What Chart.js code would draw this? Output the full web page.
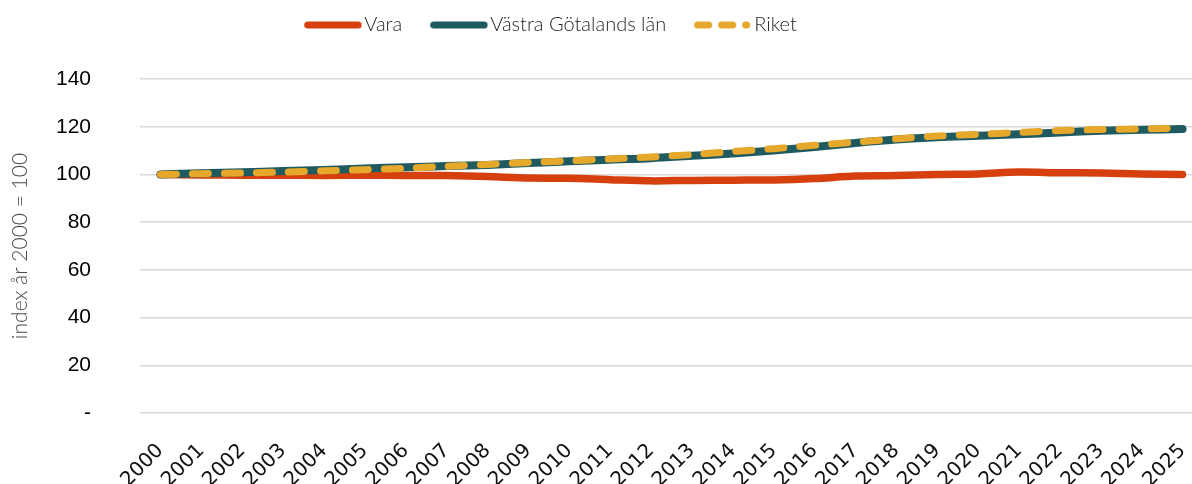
<!DOCTYPE html>
<html lang="sv">
<head>
<meta charset="utf-8">
<script src="https://cdn.jsdelivr.net/npm/chart.js@4/dist/chart.umd.min.js"></script>
<style>
  html, body { margin: 0; padding: 0; background: #fff; overflow: hidden; }
  #wrap { width: 1203px; height: 484px; }
</style>
</head>
<body>
<div id="wrap"><canvas id="indexChart"></canvas></div>
<script>
// befolkningsindex, år 2000 = 100
const years = ["2000","2001","2002","2003","2004","2005","2006","2007","2008","2009","2010","2011","2012",
  "2013","2014","2015","2016","2017","2018","2019","2020","2021","2022","2023","2024","2025"];

const vara  = [100, 99.8, 99.7, 99.7, 99.6, 99.7, 99.6, 99.5, 99.1, 98.5, 98.4, 97.8, 97.3,
  97.5, 97.6, 97.7, 98.3, 99.3, 99.5, 100.0, 100.2, 101.0, 100.7, 100.6, 100.2, 100.0];
const vgr   = [100, 100.5, 100.9, 101.4, 101.9, 102.5, 103.0, 103.5, 104.0, 104.8, 105.5, 106.2, 106.8,
  107.8, 108.8, 110.0, 111.5, 113.2, 114.6, 115.6, 116.2, 116.8, 117.6, 118.3, 118.7, 119.0];
const riket = [100, 100.3, 100.6, 101.0, 101.5, 102.0, 102.6, 103.4, 104.2, 105.0, 105.7, 106.5, 107.3,
  108.3, 109.6, 110.8, 112.2, 113.5, 114.9, 116.1, 116.8, 117.6, 118.4, 118.8, 119.1, 119.4];

const yMin = 0, yMax = 140, yStep = 20;

const colVara = "#d6400f";
const colVgr = "#1f5a60";
const colRiket = "#e6a82a";

// Legenden-Muster: leerer Rand links, Linie rechts
function legendSample(color, dash) {
  const c = document.createElement("canvas");
  c.width = 84; c.height = 10;
  const g = c.getContext("2d");
  g.strokeStyle = color;
  g.lineWidth = 7;
  g.lineCap = "round";
  if (dash) g.setLineDash(dash);
  g.beginPath();
  g.moveTo(29.5, 5);
  g.lineTo(dash ? 78.5 : 80, 5);
  g.stroke();
  return c;
}
const samples = [legendSample(colVara), legendSample(colVgr), legendSample(colRiket, [11, 13])];

// Legende: Abstand nach unten + seitlich verschieben
const legendTweak = {
  id: "legendTweak",
  afterInit(chart) {
    const lg = chart.legend;
    const fit = lg.fit;
    lg.fit = function () { fit.call(this); this.height += 34; };
  },
  afterLayout(chart) {
    chart.legend.left -= 60;
    chart.legend.right -= 60;
  }
};

new Chart(document.getElementById("indexChart"), {
  type: "line",
  data: {
    labels: years,
    datasets: [
      { label: "Vara", data: vara, borderColor: colVara, backgroundColor: colVara,
        borderWidth: 7.5, tension: 0.3, pointRadius: 0, borderCapStyle: "round", order: 2 },
      { label: "Västra Götalands län", data: vgr, borderColor: colVgr, backgroundColor: colVgr,
        borderWidth: 8, tension: 0.3, pointRadius: 0, borderCapStyle: "round", order: 1 },
      { label: "Riket", data: riket, borderColor: colRiket, backgroundColor: colRiket,
        borderWidth: 7, borderDash: [16, 16], tension: 0.3, pointRadius: 0, borderCapStyle: "round", order: 0 }
    ]
  },
  options: {
    responsive: true,
    maintainAspectRatio: false,
    animation: false,
    layout: { padding: { top: 5, bottom: 0, left: 0, right: 0 } },
    scales: {
      x: {
        offset: true,
        grid: { display: false, drawTicks: false },
        border: { display: false },
        ticks: {
          minRotation: 45, maxRotation: 45, autoSkip: false, padding: 26,
          color: "#111", font: { family: "DejaVu Sans", size: 20 }
        },
        afterFit: (axis) => { axis.height = 71; axis.paddingLeft = 0; axis.paddingRight = 0; }
      },
      y: {
        min: yMin, max: yMax,
        grid: { color: "#d9d9d9", lineWidth: 1.5, drawTicks: false },
        border: { display: false },
        ticks: {
          stepSize: yStep, padding: 49, color: "#000",
          font: { family: "Liberation Sans", size: 21 },
          callback: (v) => v === 0 ? "-" : v
        },
        title: {
          display: true, text: "index år 2000 = 100", color: "#4a4a4a",
          font: { family: "Lato", weight: "300", size: 21 },
          padding: { top: 8, bottom: 10 }
        },
        afterFit: (axis) => { axis.width = 140; }
      }
    },
    plugins: {
      legend: {
        position: "top",
        labels: {
          usePointStyle: true,
          pointStyleWidth: 68,
          boxHeight: 10,
          padding: 10,
          color: "#262626",
          font: { family: "Lato", weight: "300", size: 20 },
          sort: (a, b) => a.datasetIndex - b.datasetIndex,
          generateLabels: (chart) => {
            const items = Chart.defaults.plugins.legend.labels.generateLabels(chart);
            items.forEach(it => { it.pointStyle = samples[it.datasetIndex]; });
            return items;
          }
        }
      },
      tooltip: { enabled: false }
    }
  },
  plugins: [legendTweak]
});
</script>
</body>
</html>
